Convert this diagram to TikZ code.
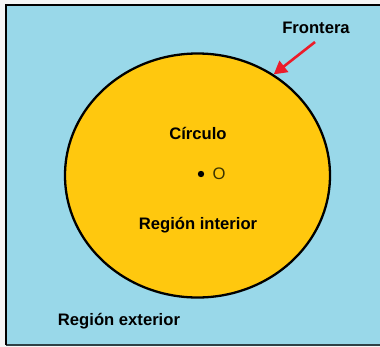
\documentclass[tikz,border=0pt]{standalone}
\usepackage{fontspec}
\setmainfont{Liberation Sans}
\usepackage{tikz}
\usetikzlibrary{arrows.meta,shapes.geometric}
\definecolor{cielo}{HTML}{99D8E9}
\definecolor{oro}{HTML}{FFC80E}
\definecolor{rojo}{HTML}{EC1C2A}
\definecolor{oliva}{HTML}{3A3300}
\tikzset{
  lbl/.style={anchor=base, inner sep=0pt, font=\fontsize{16.7}{20}\selectfont\bfseries},
  circ/.style={ellipse, draw=black, line width=2.3pt, fill=oro, inner sep=0pt,
               minimum width=265bp, minimum height=244bp},
  flecha/.style={-{Triangle[length=13bp,width=14bp]}, draw=rojo, line width=2.6pt},
}

\begin{document}
\begin{tikzpicture}[x=1bp,y=-1bp]
\useasboundingbox (0,0) rectangle (380,347);
\fill[white!96!black] (0,0) rectangle (380,347);
% region exterior
\fill[cielo] (6,5) rectangle (381,345);
\draw[black!70!cielo, line width=1.5pt] (6,345) -- (381,345);
\draw[black, line width=2.8pt] (6,345) -- (6,5) -- (381,5);

\node[circ] (circ) at (197.5,175.5) {};
\fill (201,174) circle (3.2bp);
\node[lbl, font=\fontsize{16.7}{20}\selectfont, text=oliva] (o) at (219,179.5) {O};

\node[lbl] (circulo) at (198,139) {Círculo};
\node[lbl] (interior) at (198,229) {Región interior};
\node[lbl] (exterior) at (119,325) {Región exterior};
\node[lbl] (frontera) at (316,33) {Frontera};

\coordinate (ftail) at (315,42);
\draw[flecha] (ftail) -- (circ.53.7);
\end{tikzpicture}
\end{document}
